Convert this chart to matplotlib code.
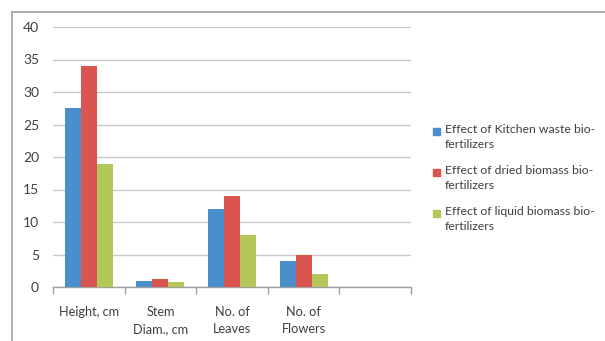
import matplotlib
matplotlib.use("Agg")
import matplotlib.pyplot as plt
from matplotlib.lines import Line2D
from matplotlib.patches import Rectangle
import numpy as np

plt.rcParams['font.family'] = ['Lato', 'DejaVu Sans']

categories = ["Height, cm", "Stem\nDiam., cm", "No. of\nLeaves", "No. of\nFlowers", ""]
series_names = [
    "Effect of Kitchen waste bio-\nfertilizers",
    "Effect of dried biomass bio-\nfertilizers",
    "Effect of liquid biomass bio-\nfertilizers",
]
kitchen_waste = [27.5, 1.0, 12.0, 4.0, np.nan]
dried_biomass = [34.0, 1.2, 14.0, 5.0, np.nan]
liquid_biomass = [19.0, 0.7, 8.0, 2.0, np.nan]
colors = ["#4A8FCC", "#DA5450", "#B4C85A"]
yticks = [0, 5, 10, 15, 20, 25, 30, 35, 40]

W, H = 605, 341
fig = plt.figure(figsize=(W / 100, H / 100), dpi=100)

# Plot area in pixel coordinates
x0, x1 = 53, 411
ytop, ybot = 27, 287
ax = fig.add_axes([x0 / W, (H - ybot) / H, (x1 - x0) / W, (ybot - ytop) / H])

x = np.arange(len(categories))
bw = 0.224
for i, (vals, name, c) in enumerate(zip([kitchen_waste, dried_biomass, liquid_biomass], series_names, colors)):
    ax.bar(x + (i - 1) * bw, vals, width=bw, color=c, label=name, zorder=3)

ax.set_xlim(-0.5, len(categories) - 0.5)
ax.set_ylim(0, 40)
ax.set_yticks(yticks)
ax.set_yticklabels([str(t) for t in yticks], fontsize=10, color="#404040")
ax.yaxis.grid(True, color="#C8C8C8", linewidth=1.0, zorder=0)
ax.tick_params(axis="y", length=0, pad=10)

# Category boundaries as tick marks below the axis
ax.set_xticks(np.arange(len(categories) + 1) - 0.5, minor=False)
ax.set_xticklabels([""] * (len(categories) + 1))
ax.tick_params(axis="x", length=5, color="#A0A0A0", direction="out", width=1)
ax.set_xticks(x, minor=True)
ax.set_xticklabels(categories, minor=True, fontsize=9.2, color="#404040", linespacing=1.45, va="top")
ax.tick_params(axis="x", which="minor", length=0, pad=14)

for side in ["top", "right", "left"]:
    ax.spines[side].set_visible(False)
ax.spines["bottom"].set_color("#A0A0A0")
ax.spines["bottom"].set_linewidth(1.0)

# Outer frame (top and left edges)
fig.add_artist(Line2D([12 / W, 1], [1 - 12 / H, 1 - 12 / H], color="#A8A8A8", linewidth=1.3))
fig.add_artist(Line2D([12 / W, 12 / W], [0, 1 - 12 / H], color="#A8A8A8", linewidth=1.3))

# Legend entries
legend_y = [131, 172, 213]
for ly, name, c in zip(legend_y, series_names, colors):
    fig.add_artist(Rectangle((433 / W, 1 - (ly + 3.5) / H), 7 / W, 7 / H, color=c, transform=fig.transFigure))
    fig.text(445 / W, 1 - (ly - 7) / H, name, fontsize=8.8, color="#404040", va="top", ha="left", linespacing=1.45)

fig.savefig("out.png", dpi=100)
